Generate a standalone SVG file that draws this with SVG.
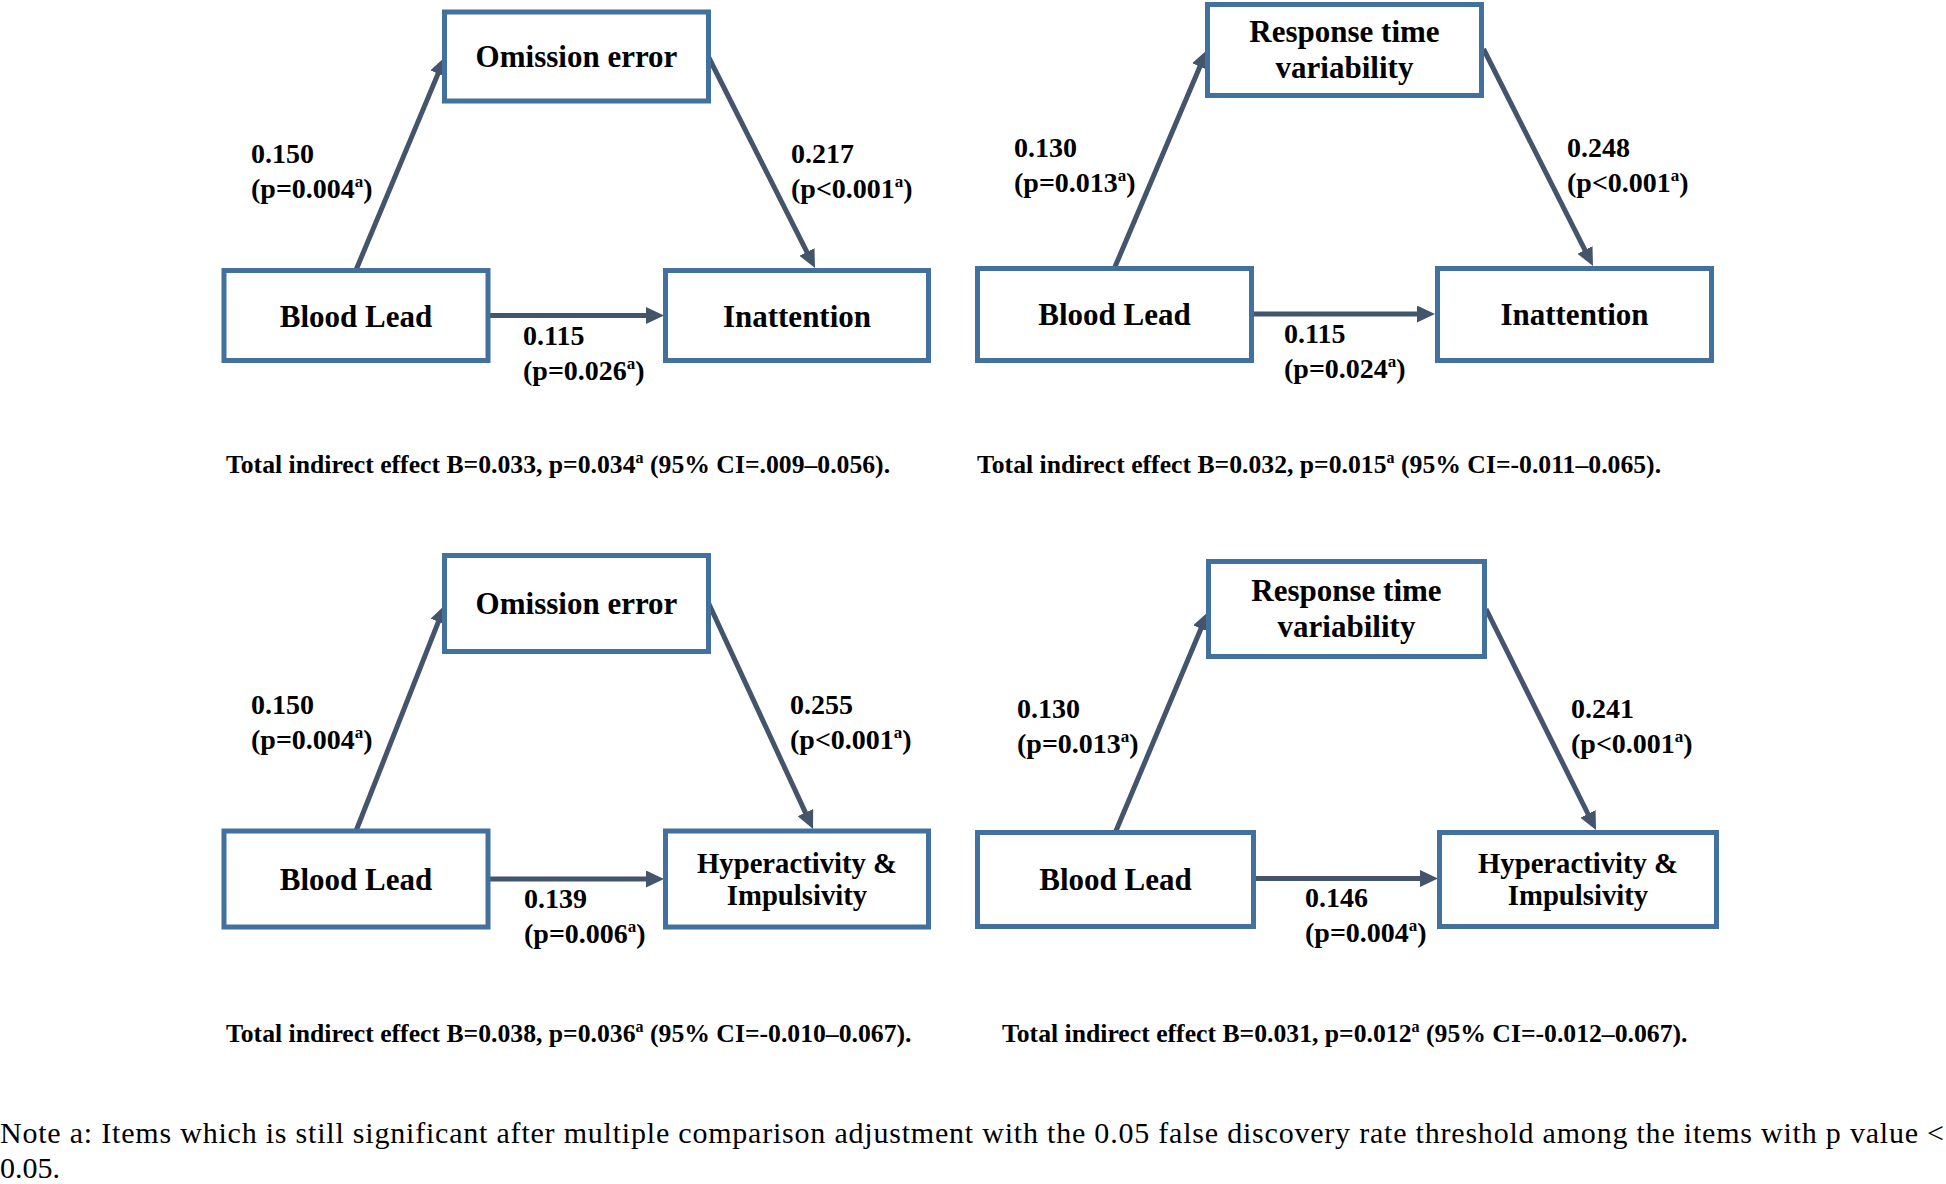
<svg xmlns="http://www.w3.org/2000/svg" width="1946" height="1184" viewBox="0 0 1946 1184">
<style>
.box{fill:#fff;stroke:#41719C;stroke-width:5}
.nt{font-family:"Liberation Serif","Times New Roman",serif;font-weight:bold;font-size:31px;text-anchor:middle;fill:#000}
.hy{font-size:28.7px}
.lb{font-family:"Liberation Serif","Times New Roman",serif;font-weight:bold;font-size:28px;fill:#000}
.tot{font-family:"Liberation Serif","Times New Roman",serif;font-weight:bold;font-size:25.7px;fill:#000}
.note{font-family:"Liberation Serif","Times New Roman",serif;font-size:30px;fill:#000}
.ar{stroke:#44546A;stroke-width:5;fill:none;marker-end:url(#ah)}
</style>
<defs>
<marker id="ah" markerUnits="userSpaceOnUse" markerWidth="18" markerHeight="17" refX="6" refY="8.5" orient="auto">
<path d="M0,0 L18,8.5 L0,17 z" fill="#44546A"/>
</marker>
</defs>
<rect width="1946" height="1184" fill="#fff"/>

<g id="connectors">
<line class="ar" x1="356" y1="270" x2="440.4" y2="68.1"/>
<line class="ar" x1="708.5" y1="57" x2="809.6" y2="257.3"/>
<line class="ar" x1="490" y1="315.5" x2="652" y2="315.5"/>

<line class="ar" x1="1114.5" y1="268" x2="1202.3" y2="61.05"/>
<line class="ar" x1="1483.5" y1="49" x2="1587.6" y2="255.3"/>
<line class="ar" x1="1253.5" y1="314" x2="1423" y2="314"/>

<line class="ar" x1="356" y1="831" x2="440.6" y2="616.2"/>
<line class="ar" x1="708.5" y1="603" x2="808" y2="818.1"/>
<line class="ar" x1="490" y1="879" x2="652" y2="879"/>

<line class="ar" x1="1115.5" y1="832" x2="1203.35" y2="623.06"/>
<line class="ar" x1="1486" y1="609" x2="1590.65" y2="819.26"/>
<line class="ar" x1="1256" y1="878.5" x2="1426" y2="878.5"/>
</g>

<g id="n1-omission"><rect class="box" x="444.5" y="12" width="264" height="89"/><text class="nt" x="576.5" y="67">Omission error</text></g>
<g id="n1-blood"><rect class="box" x="224" y="270.5" width="264" height="90"/><text class="nt" x="356" y="327">Blood Lead</text></g>
<g id="n1-inatt"><rect class="box" x="665.5" y="270.5" width="263" height="90"/><text class="nt" x="797" y="327">Inattention</text></g>

<g id="n2-rtv"><rect class="box" x="1207.5" y="4.5" width="274" height="91"/><text class="nt" x="1344.5" y="42">Response time</text><text class="nt" x="1344.5" y="77.5">variability</text></g>
<g id="n2-blood"><rect class="box" x="977.5" y="268.5" width="274" height="92"/><text class="nt" x="1114.5" y="325">Blood Lead</text></g>
<g id="n2-inatt"><rect class="box" x="1437.5" y="268.5" width="274" height="92"/><text class="nt" x="1574.5" y="325">Inattention</text></g>

<g id="n3-omission"><rect class="box" x="444.5" y="555.5" width="264" height="96"/><text class="nt" x="576.5" y="614">Omission error</text></g>
<g id="n3-blood"><rect class="box" x="224" y="831" width="264" height="96"/><text class="nt" x="356" y="890">Blood Lead</text></g>
<g id="n3-hyper"><rect class="box" x="665.5" y="831" width="263" height="96"/><text class="nt hy" x="797" y="873">Hyperactivity &amp;</text><text class="nt hy" x="797" y="905">Impulsivity</text></g>

<g id="n4-rtv"><rect class="box" x="1208.5" y="561.5" width="276" height="95"/><text class="nt" x="1346.5" y="601">Response time</text><text class="nt" x="1346.5" y="637">variability</text></g>
<g id="n4-blood"><rect class="box" x="977.5" y="832.5" width="276" height="94"/><text class="nt" x="1115.5" y="890">Blood Lead</text></g>
<g id="n4-hyper"><rect class="box" x="1439.5" y="832.5" width="277" height="94"/><text class="nt hy" x="1578" y="873">Hyperactivity &amp;</text><text class="nt hy" x="1578" y="905">Impulsivity</text></g>

<g id="labels">
<text class="lb" x="251" y="163">0.150</text><text class="lb" x="251" y="198">(p=0.004<tspan font-size="17" dy="-11">a</tspan><tspan dy="11">)</tspan></text>
<text class="lb" x="791" y="163">0.217</text><text class="lb" x="791" y="198">(p&lt;0.001<tspan font-size="17" dy="-11">a</tspan><tspan dy="11">)</tspan></text>
<text class="lb" x="523" y="345">0.115</text><text class="lb" x="523" y="380">(p=0.026<tspan font-size="17" dy="-11">a</tspan><tspan dy="11">)</tspan></text>

<text class="lb" x="1014" y="157">0.130</text><text class="lb" x="1014" y="192">(p=0.013<tspan font-size="17" dy="-11">a</tspan><tspan dy="11">)</tspan></text>
<text class="lb" x="1567" y="157">0.248</text><text class="lb" x="1567" y="192">(p&lt;0.001<tspan font-size="17" dy="-11">a</tspan><tspan dy="11">)</tspan></text>
<text class="lb" x="1284" y="343">0.115</text><text class="lb" x="1284" y="378">(p=0.024<tspan font-size="17" dy="-11">a</tspan><tspan dy="11">)</tspan></text>

<text class="lb" x="251" y="714">0.150</text><text class="lb" x="251" y="749">(p=0.004<tspan font-size="17" dy="-11">a</tspan><tspan dy="11">)</tspan></text>
<text class="lb" x="790" y="714">0.255</text><text class="lb" x="790" y="749">(p&lt;0.001<tspan font-size="17" dy="-11">a</tspan><tspan dy="11">)</tspan></text>
<text class="lb" x="524" y="908">0.139</text><text class="lb" x="524" y="943">(p=0.006<tspan font-size="17" dy="-11">a</tspan><tspan dy="11">)</tspan></text>

<text class="lb" x="1017" y="718">0.130</text><text class="lb" x="1017" y="753">(p=0.013<tspan font-size="17" dy="-11">a</tspan><tspan dy="11">)</tspan></text>
<text class="lb" x="1571" y="718">0.241</text><text class="lb" x="1571" y="753">(p&lt;0.001<tspan font-size="17" dy="-11">a</tspan><tspan dy="11">)</tspan></text>
<text class="lb" x="1305" y="907">0.146</text><text class="lb" x="1305" y="942">(p=0.004<tspan font-size="17" dy="-11">a</tspan><tspan dy="11">)</tspan></text>
</g>

<g id="totals">
<text class="tot" x="226" y="473">Total indirect effect B=0.033, p=0.034<tspan font-size="16" dy="-10">a</tspan><tspan dy="10"> (95% CI=.009–0.056).</tspan></text>
<text class="tot" x="977" y="473">Total indirect effect B=0.032, p=0.015<tspan font-size="16" dy="-10">a</tspan><tspan dy="10"> (95% CI=-0.011–0.065).</tspan></text>
<text class="tot" x="226" y="1042">Total indirect effect B=0.038, p=0.036<tspan font-size="16" dy="-10">a</tspan><tspan dy="10"> (95% CI=-0.010–0.067).</tspan></text>
<text class="tot" x="1002" y="1042">Total indirect effect B=0.031, p=0.012<tspan font-size="16" dy="-10">a</tspan><tspan dy="10"> (95% CI=-0.012–0.067).</tspan></text>
</g>

<g id="note">
<text class="note" x="0" y="1143" textLength="1944" lengthAdjust="spacing">Note a: Items which is still significant after multiple comparison adjustment with the 0.05 false discovery rate threshold among the items with p value &lt;</text>
<text class="note" x="0" y="1178">0.05.</text>
</g>
</svg>
